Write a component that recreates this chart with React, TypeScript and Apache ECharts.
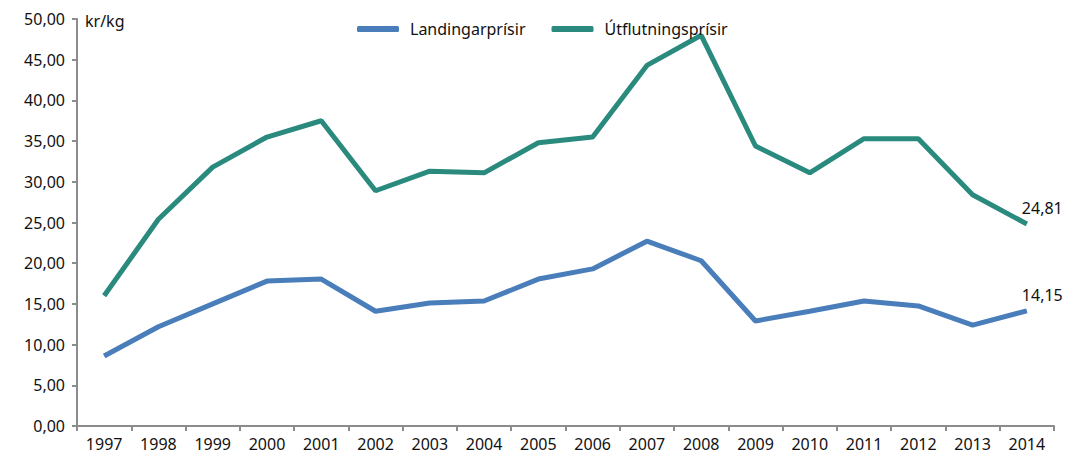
import React, { useEffect, useRef } from "react";
import * as echarts from "echarts";

const years = ["1997","1998","1999","2000","2001","2002","2003","2004","2005","2006","2007","2008","2009","2010","2011","2012","2013","2014"];
const landingarprisir = [8.6, 12.2, 15.0, 17.8, 18.05, 14.1, 15.1, 15.35, 18.05, 19.3, 22.7, 20.3, 12.9, 14.1, 15.35, 14.75, 12.4, 14.15];
const utflutningsprisir = [16.0, 25.4, 31.8, 35.5, 37.5, 28.9, 31.3, 31.1, 34.8, 35.5, 44.3, 48.0, 34.4, 31.1, 35.3, 35.3, 28.4, 24.81];
const seriesNames = ["Landingarprísir", "Útflutningsprísir"];
const unitLabel = "kr/kg";

const fmt = (v: number) => v.toFixed(2).replace(".", ",");
const FONT = "'Noto Sans', sans-serif";

export default function App() {
  const ref = useRef<HTMLDivElement>(null);
  useEffect(() => {
    if (!ref.current) return;
    const chart = echarts.init(ref.current, null, { renderer: "svg" });
    const endLabel = {
      show: true,
      offset: [-13, -16],
      formatter: (p: any) => fmt(p.value),
      color: "#111",
      fontSize: 16,
      fontFamily: FONT,
    };
    chart.setOption({
      animation: false,
      textStyle: { fontFamily: FONT },
      legend: {
        top: 16,
        left: 352,
        itemWidth: 42,
        itemHeight: 6,
        itemGap: 26,
        icon: "roundRect",
        textStyle: { fontSize: 16, color: "#111", fontFamily: FONT, padding: [0, 0, 0, 6] },
        data: seriesNames,
      },
      grid: { left: 77, right: 25, top: 19, bottom: 34, containLabel: false },
      xAxis: {
        type: "category",
        data: years,
        boundaryGap: true,
        axisLine: { lineStyle: { color: "#8c8c8c", width: 2 } },
        axisTick: { show: true, length: 5, alignWithLabel: false, lineStyle: { color: "#8c8c8c", width: 2 } },
        axisLabel: { color: "#111", fontSize: 16, margin: 10, fontFamily: FONT },
        splitLine: { show: false },
      },
      yAxis: {
        type: "value",
        min: 0,
        max: 50,
        interval: 5,
        name: unitLabel,
        nameLocation: "end",
        nameGap: -10,
        nameTextStyle: { color: "#111", fontSize: 16, align: "left", padding: [0, 0, 0, 8], fontFamily: FONT },
        axisLine: { show: true, lineStyle: { color: "#8c8c8c", width: 2 } },
        axisTick: { show: true, length: 5, lineStyle: { color: "#8c8c8c", width: 2 } },
        axisLabel: { color: "#111", fontSize: 16, margin: 12, formatter: (v: number) => fmt(v), fontFamily: FONT },
        splitLine: { show: false },
      },
      series: [
        {
          name: seriesNames[0],
          type: "line",
          data: landingarprisir,
          symbol: "none",
          lineStyle: { color: "#4a7ebb", width: 5 },
          itemStyle: { color: "#4a7ebb" },
          endLabel,
        },
        {
          name: seriesNames[1],
          type: "line",
          data: utflutningsprisir,
          symbol: "none",
          lineStyle: { color: "#2a8a7e", width: 5 },
          itemStyle: { color: "#2a8a7e" },
          endLabel,
        },
      ],
    });
    return () => chart.dispose();
  }, []);
  return <div ref={ref} style={{ width: 1079, height: 460, position: "absolute", left: 0, top: 0 }} />;
}
